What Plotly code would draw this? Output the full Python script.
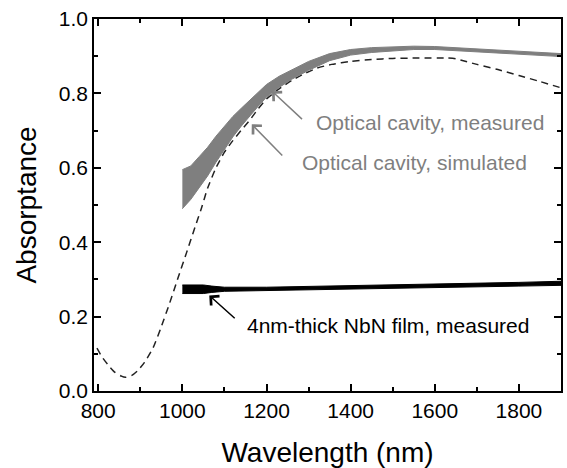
import plotly.graph_objects as go

# Simulated optical cavity absorptance (dashed)
sim_wl = [797, 810, 825, 840, 855, 865, 880, 895, 910, 930, 950, 970, 990, 1010,
          1030, 1045, 1060, 1080, 1100, 1120, 1140, 1160, 1180, 1200, 1230, 1260,
          1290, 1320, 1355, 1400, 1450, 1500, 1560, 1630, 1650, 1670, 1700, 1750,
          1800, 1850, 1900]
sim_a = [0.115, 0.090, 0.068, 0.050, 0.040, 0.037, 0.042, 0.056, 0.077, 0.115,
         0.173, 0.237, 0.305, 0.372, 0.440, 0.490, 0.545, 0.600, 0.642, 0.673,
         0.701, 0.728, 0.758, 0.785, 0.812, 0.835, 0.853, 0.868, 0.878, 0.886,
         0.891, 0.894, 0.895, 0.895, 0.893, 0.887, 0.878, 0.864, 0.848, 0.832, 0.815]

# Measured optical cavity: envelope of the noisy trace
cav_wl = [1000, 1020, 1040, 1060, 1080, 1100, 1120, 1140, 1160, 1180, 1200, 1230,
          1260, 1300, 1350, 1400, 1450, 1500, 1550, 1600, 1650, 1700, 1750, 1800,
          1850, 1900]
cav_lo = [0.490, 0.515, 0.545, 0.578, 0.615, 0.650, 0.683, 0.712, 0.740, 0.765,
          0.790, 0.816, 0.838, 0.862, 0.888, 0.903, 0.910, 0.915, 0.918, 0.918,
          0.915, 0.911, 0.908, 0.905, 0.902, 0.899]
cav_hi = [0.595, 0.605, 0.630, 0.655, 0.685, 0.712, 0.738, 0.760, 0.782, 0.802,
          0.824, 0.846, 0.864, 0.886, 0.907, 0.918, 0.923, 0.926, 0.927, 0.926,
          0.923, 0.919, 0.916, 0.913, 0.910, 0.907]

# Measured 4nm NbN film: envelope of the noisy trace
nbn_wl = [1000, 1050, 1070, 1100, 1200, 1300, 1400, 1500, 1600, 1700, 1800, 1900]
nbn_lo = [0.262, 0.262, 0.265, 0.268, 0.270, 0.272, 0.274, 0.276, 0.278, 0.280,
          0.282, 0.284]
nbn_hi = [0.285, 0.285, 0.282, 0.279, 0.279, 0.281, 0.283, 0.285, 0.287, 0.290,
          0.292, 0.295]

x_ticks = [800, 1000, 1200, 1400, 1600, 1800]
y_ticks = [0.0, 0.2, 0.4, 0.6, 0.8, 1.0]

FONT = "Liberation Sans, Arial, sans-serif"
GRAY = "#7f7f7f"

fig = go.Figure()

fig.add_trace(go.Scatter(
    x=sim_wl, y=sim_a, mode="lines", line_shape="spline",
    line=dict(color="#222222", width=1.5, dash="7px,5px", smoothing=0.6),
    showlegend=False, hoverinfo="skip"))

fig.add_trace(go.Scatter(
    x=cav_wl + cav_wl[::-1], y=cav_hi + cav_lo[::-1],
    mode="lines", fill="toself", fillcolor=GRAY,
    line=dict(color=GRAY, width=1), showlegend=False, hoverinfo="skip"))

fig.add_trace(go.Scatter(
    x=nbn_wl + nbn_wl[::-1], y=nbn_hi + nbn_lo[::-1],
    mode="lines", fill="toself", fillcolor="#000000",
    line=dict(color="#000000", width=1), showlegend=False, hoverinfo="skip"))

arrows = [
    dict(x=1213, y=0.806, ax=1288, ay=0.727, color=GRAY),
    dict(x=1165, y=0.717, ax=1241, ay=0.629, color=GRAY),
    dict(x=1064, y=0.257, ax=1128, ay=0.192, color="#000000"),
]
for a in arrows:
    fig.add_annotation(x=a["x"], y=a["y"], ax=a["ax"], ay=a["ay"],
                       xref="x", yref="y", axref="x", ayref="y",
                       text="", showarrow=True, arrowhead=4, arrowsize=1.6,
                       arrowwidth=1.5, arrowcolor=a["color"])

labels = [
    dict(x=1314, y=0.721, text="Optical cavity, measured", color=GRAY),
    dict(x=1280, y=0.614, text="Optical cavity, simulated", color=GRAY),
    dict(x=1150, y=0.176, text="4nm-thick NbN film, measured", color="#000000"),
]
for l in labels:
    fig.add_annotation(x=l["x"], y=l["y"], xref="x", yref="y", text=l["text"],
                       showarrow=False, xanchor="left", yanchor="middle",
                       font=dict(family=FONT, size=21, color=l["color"]))

axis_common = dict(
    showline=True, linecolor="black", linewidth=1.5, mirror="ticks",
    ticks="inside", ticklen=7, tickwidth=1.5, tickcolor="black",
    showgrid=False, zeroline=False,
    tickfont=dict(family=FONT, size=21, color="black"),
)

fig.update_xaxes(
    range=[790, 1900], tickvals=x_ticks,
    minor=dict(ticks="inside", ticklen=4, tickwidth=1.5, tickcolor="black", dtick=100,
               tick0=800, showgrid=False),
    title=dict(text="Wavelength (nm)", font=dict(family=FONT, size=28, color="black"),
               standoff=22),
    **axis_common)
fig.update_yaxes(
    range=[0, 1], tickvals=y_ticks, tickformat=".1f",
    minor=dict(ticks="inside", ticklen=4, tickwidth=1.5, tickcolor="black", dtick=0.1,
               tick0=0, showgrid=False),
    title=dict(text="Absorptance", font=dict(family=FONT, size=28, color="black"),
               standoff=14),
    **axis_common)

fig.update_layout(
    width=567, height=468,
    margin=dict(l=94, r=4, t=19, b=75),
    plot_bgcolor="white", paper_bgcolor="white",
    font=dict(family=FONT),
)

fig.write_html("out.html")
